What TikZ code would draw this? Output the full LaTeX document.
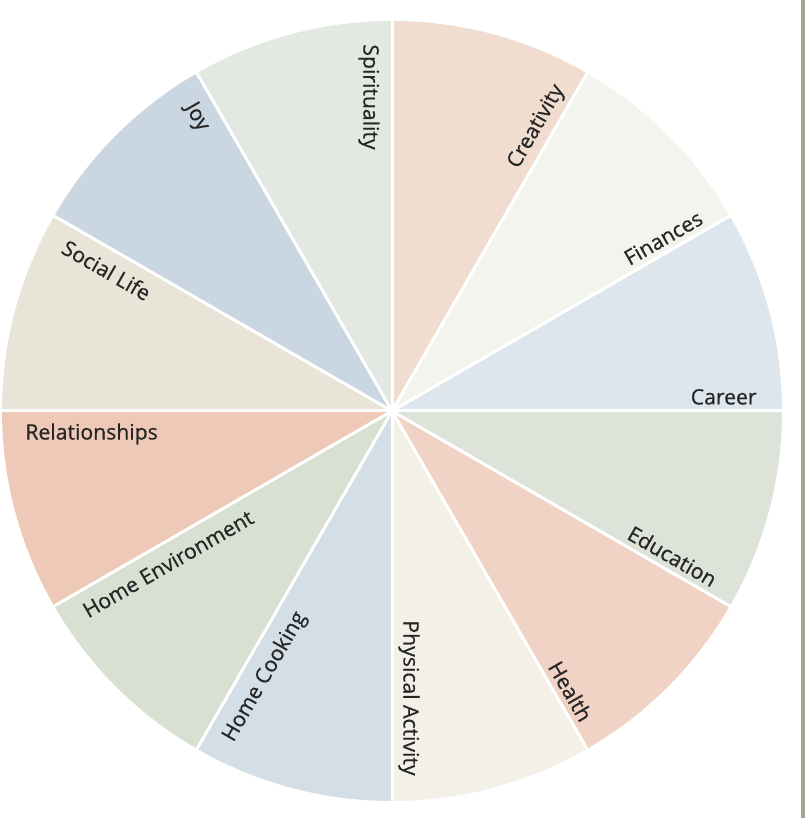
\documentclass[tikz,border=0pt]{standalone}
\usepackage{fontspec}
\setmainfont{Open Sans}
\newfontfamily\lblfont{Open Sans}[FakeBold=0.6]
\usepackage{tikz}
\definecolor{creacol}{HTML}{F1DDCF}
\definecolor{fincol}{HTML}{F4F4EF}
\definecolor{carcol}{HTML}{DDE6ED}
\definecolor{educol}{HTML}{DDE3D9}
\definecolor{heacol}{HTML}{F0D3C5}
\definecolor{phycol}{HTML}{F3F1E7}
\definecolor{cookcol}{HTML}{D4DEE6}
\definecolor{homecol}{HTML}{D8E0D2}
\definecolor{relcol}{HTML}{EEC9B7}
\definecolor{soccol}{HTML}{E8E4D7}
\definecolor{joycol}{HTML}{CAD6E1}
\definecolor{spicol}{HTML}{E3E8E2}
\definecolor{labcol}{HTML}{262626}
\definecolor{edgecol}{HTML}{A9A293}

\begin{document}
\begin{tikzpicture}
    [x=0.5pt,y=0.5pt,
     lblR/.style={anchor=south east,inner xsep=1pt,inner ysep=3pt,text=labcol,font=\lblfont\fontsize{10.6}{12}\selectfont},
     lblL/.style={anchor=north west,inner xsep=1pt,inner ysep=6pt,text=labcol,font=\lblfont\fontsize{10.6}{12}\selectfont}]
%frame of the picture
\useasboundingbox (-392,-407) rectangle (413,411);
\fill[white] (-392,-407) rectangle (413,411);
\fill[edgecol] (409,-407) rectangle (413,411);
%the twelve segments, each from \a to \a+30
\foreach \a/\col in {60/creacol,30/fincol,0/carcol,-30/educol,-60/heacol,-90/phycol,
                     -120/cookcol,-150/homecol,-180/relcol,150/soccol,120/joycol,90/spicol}
  \fill[\col] (0,0) -- (\a:390) arc[start angle=\a,end angle=\a+30,radius=390] -- cycle;
%white separators
\foreach \a in {0,30,...,330}
  \draw[white,line width=1.5pt] (0,0) -- (\a:392);
%labels along the clockwise edge of each segment
\foreach \n/\a/\r/\s/\lab in {crea/60/60/lblR/Creativity,fin/30/30/lblR/Finances,car/0/0/lblR/Career,
                              edu/-30/-30/lblR/Education,hea/-60/-60/lblR/Health,phy/-90/-90/lblR/Physical Activity}
  \node[\s,rotate=\r] (\n) at (\a:367) {\lab};
\foreach \n/\a/\r/\s/\lab in {cook/240/60/lblL/Home Cooking,home/210/30/lblL/Home Environment,rel/180/0/lblL/Relationships,
                              soc/150/-30/lblL/Social Life,joy/120/-60/lblL/Joy,spi/90/-90/lblL/Spirituality}
  \node[\s,rotate=\r] (\n) at (\a:369) {\lab};
\end{tikzpicture}
\end{document}
